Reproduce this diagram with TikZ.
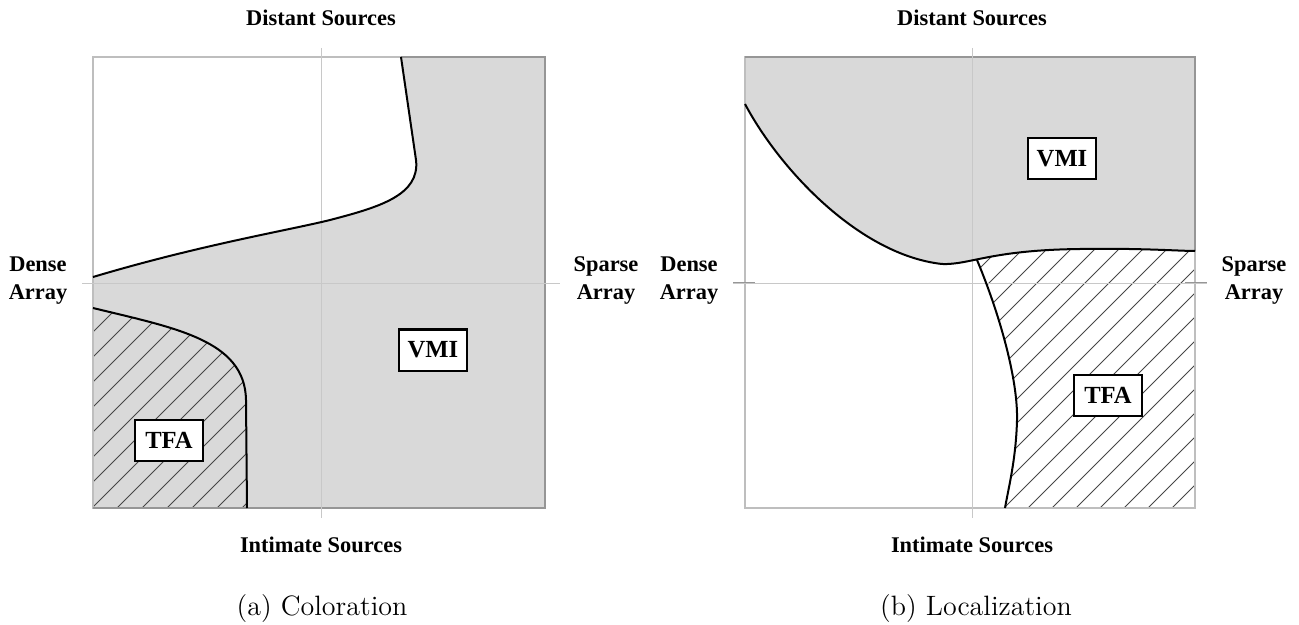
\documentclass[tikz,border=0pt]{standalone}
\usepackage{fontspec}
\newfontfamily\labfont{Liberation Serif}
\definecolor{regiongray}{RGB}{217,217,217}
\definecolor{edgegray}{RGB}{150,150,150}
\definecolor{axisgray}{RGB}{200,200,200}
\definecolor{framegray}{RGB}{190,190,190}
\definecolor{hatchgray}{RGB}{70,70,70}
\begin{document}
\begin{tikzpicture}[x=0.5pt,y=-0.5pt,
  axis/.style={draw=axisgray,line width=0.4pt},
  tickmark/.style={draw=edgegray,line width=0.5pt},
  frame/.style={draw=framegray,line width=0.6pt},
  regionedge/.style={draw=edgegray,line width=0.8pt},
  boundary/.style={draw=black,line width=1pt},
  hatchline/.style={draw=hatchgray,line width=0.45pt},
  lab/.style={font=\labfont\bfseries\fontsize{11.2}{14}\selectfont,align=center,inner sep=0pt},
  tag/.style={draw=black,line width=1pt,fill=white,minimum width=34pt,minimum height=20.5pt,inner sep=0pt,font=\labfont\bfseries\fontsize{12.3}{14}\selectfont},
  capt/.style={font=\fontsize{14}{17}\selectfont,inner sep=0pt}]
\useasboundingbox (0,0) rectangle (1299,625);

% ---------------- (a) Coloration ----------------
\fill[regiongray] (401,57) -- (545,57) -- (545,508) -- (93,508) -- (93,277)
  .. controls (200,245) and (290,230) .. (330,220)
  .. controls (380,207) and (420,195) .. (416,160) -- cycle;
\begin{scope}
  \clip (93,308) .. controls (175,328) and (245,340) .. (246,400) -- (247,508) -- (93,508) -- cycle;
  \foreach \k in {-12,...,8} \draw[hatchline] ({117+25*\k},508) -- ++(500,-500);
\end{scope}
\draw[frame] (93,57) rectangle (545,508);
\draw[regionedge] (401,57) -- (545,57) -- (545,508) -- (93,508);
\draw[axis] (321,48) -- (321,518);
\draw[axis] (82,283) -- (560,283);
\draw[boundary] (93,277) .. controls (200,245) and (290,230) .. (330,220)
  .. controls (380,207) and (420,195) .. (416,160) -- (401,57);
\draw[boundary] (93,308) .. controls (175,328) and (245,340) .. (246,400) -- (247,508);

\node[lab] (ds1) at (321,18) {Distant Sources};
\node[lab] (is1) at (321,545) {Intimate Sources};
\node[lab] (da1) at (38,281) {Dense\\Array};
\node[lab] (sa1) at (606,281) {Sparse\\Array};
\node[tag] (vmi1) at (433,350) {VMI};
\node[tag] (tfa1) at (169,440) {TFA};
\node[capt] (capa) at (322,609) {(a) Coloration};

% ---------------- (b) Localization ----------------
\begin{scope}
  \clip (977,200) -- (1195,200) -- (1195,508) -- (1005,508)
    .. controls (1008,490) and (1016,460) .. (1017,420)
    .. controls (1018,380) and (1000,315) .. (977,260) -- cycle;
  \foreach \k in {-12,...,10} \draw[hatchline] ({1004+24*\k},508) -- ++(500,-500);
\end{scope}
\fill[regiongray] (745,57) -- (1195,57) -- (1195,251)
  .. controls (1180,251) and (1140,248) .. (1080,249)
  .. controls (990,250) and (970,265) .. (942,264)
  .. controls (860,255) and (780,170) .. (745,104) -- cycle;
\draw[frame] (745,57) rectangle (1195,508);
\draw[regionedge] (745,57) -- (1195,57) -- (1195,251);
\draw[axis] (972,48) -- (972,518);
\draw[axis] (733,283) -- (1207,283);
\draw[tickmark] (733,283) -- (755,283);
\draw[tickmark] (1185,283) -- (1207,283);
\draw[boundary] (745,104) .. controls (780,170) and (860,255) .. (942,264)
  .. controls (970,265) and (990,250) .. (1080,249)
  .. controls (1140,248) and (1180,251) .. (1195,251);
\draw[boundary] (977,260) .. controls (1000,315) and (1018,380) .. (1017,420)
  .. controls (1016,460) and (1008,490) .. (1005,508);

\node[lab] (ds2) at (972,18) {Distant Sources};
\node[lab] (is2) at (972,545) {Intimate Sources};
\node[lab] (da2) at (689,281) {Dense\\Array};
\node[lab] (sa2) at (1254,281) {Sparse\\Array};
\node[tag] (vmi2) at (1062,159) {VMI};
\node[tag] (tfa2) at (1108,395) {TFA};
\node[capt] (capb) at (976,609) {(b) Localization};
\end{tikzpicture}
\end{document}
